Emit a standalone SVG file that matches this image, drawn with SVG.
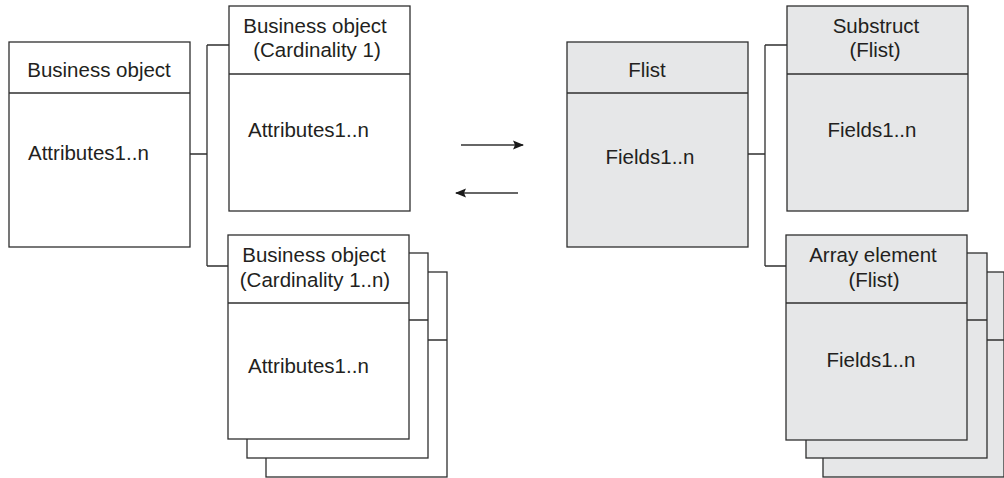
<svg xmlns="http://www.w3.org/2000/svg" width="1004" height="478" viewBox="0 0 1004 478">
<style>
.b{fill:#fff;stroke:#2f2f2f;stroke-width:1.3}
.g{fill:#e6e7e8;stroke:#2f2f2f;stroke-width:1.3}
.d{stroke:#2f2f2f;stroke-width:1.3;fill:none}
text{font-family:"Liberation Sans",Arial,sans-serif;font-size:20.5px;fill:#231f20}
.c{text-anchor:middle}
</style>
<defs>
<marker id="ah" viewBox="0 0 11 10" refX="10" refY="5" markerWidth="11" markerHeight="10" markerUnits="userSpaceOnUse" orient="auto">
<path d="M0,0.5 L11,5 L0,9.5 L2,5 Z" fill="#1a1a1a"/>
</marker>
</defs>
<rect width="1004" height="478" fill="#fff"/>
<g id="connectors">
<path class="d" d="M190,154 H207 M207,45 V266 M207,45 H229 M207,266 H228"/>
<path class="d" d="M748,154 H765 M765,45 V266 M765,45 H787 M765,266 H786"/>
<line x1="461" y1="145" x2="523" y2="145" stroke="#333" stroke-width="1.3" marker-end="url(#ah)"/>
<line x1="518" y1="193" x2="456" y2="193" stroke="#333" stroke-width="1.3" marker-end="url(#ah)"/>
</g>
<g id="bo">
<rect class="b" x="9" y="42" width="181" height="205"/>
<line class="d" x1="9" y1="93" x2="190" y2="93"/>
<text class="c" x="99" y="77">Business object</text>
<text x="28" y="160">Attributes1..n</text>
</g>
<g id="bo1">
<rect class="b" x="229" y="6" width="181" height="205"/>
<line class="d" x1="229" y1="74" x2="410" y2="74"/>
<text class="c" x="315" y="33">Business object</text>
<text class="c" x="317" y="57">(Cardinality 1)</text>
<text x="248" y="137">Attributes1..n</text>
</g>
<g id="bon">
<rect class="b" x="266" y="272" width="181" height="205"/>
<line class="d" x1="266" y1="340" x2="447" y2="340"/>
<rect class="b" x="247" y="253" width="181" height="205"/>
<line class="d" x1="247" y1="320" x2="428" y2="320"/>
<rect class="b" x="228" y="235" width="181" height="204"/>
<line class="d" x1="228" y1="303" x2="409" y2="303"/>
<text class="c" x="314" y="262">Business object</text>
<text class="c" x="315" y="287">(Cardinality 1..n)</text>
<text x="248" y="373">Attributes1..n</text>
</g>
<g id="flist">
<rect class="g" x="567" y="42" width="181" height="205"/>
<line class="d" x1="567" y1="93" x2="748" y2="93"/>
<text class="c" x="647" y="77">Flist</text>
<text class="c" x="650" y="164">Fields1..n</text>
</g>
<g id="substruct">
<rect class="g" x="787" y="6" width="181" height="205"/>
<line class="d" x1="787" y1="74" x2="968" y2="74"/>
<text class="c" x="876" y="33">Substruct</text>
<text class="c" x="875" y="57">(Flist)</text>
<text class="c" x="872" y="137">Fields1..n</text>
</g>
<g id="array">
<rect class="g" x="823" y="272" width="181" height="205"/>
<line class="d" x1="823" y1="340" x2="1004" y2="340"/>
<rect class="g" x="806" y="253" width="181" height="205"/>
<line class="d" x1="806" y1="320" x2="987" y2="320"/>
<rect class="g" x="786" y="235" width="181" height="205"/>
<line class="d" x1="786" y1="303" x2="967" y2="303"/>
<text class="c" x="873" y="262">Array element</text>
<text class="c" x="874" y="287">(Flist)</text>
<text class="c" x="871" y="367">Fields1..n</text>
</g>
</svg>
